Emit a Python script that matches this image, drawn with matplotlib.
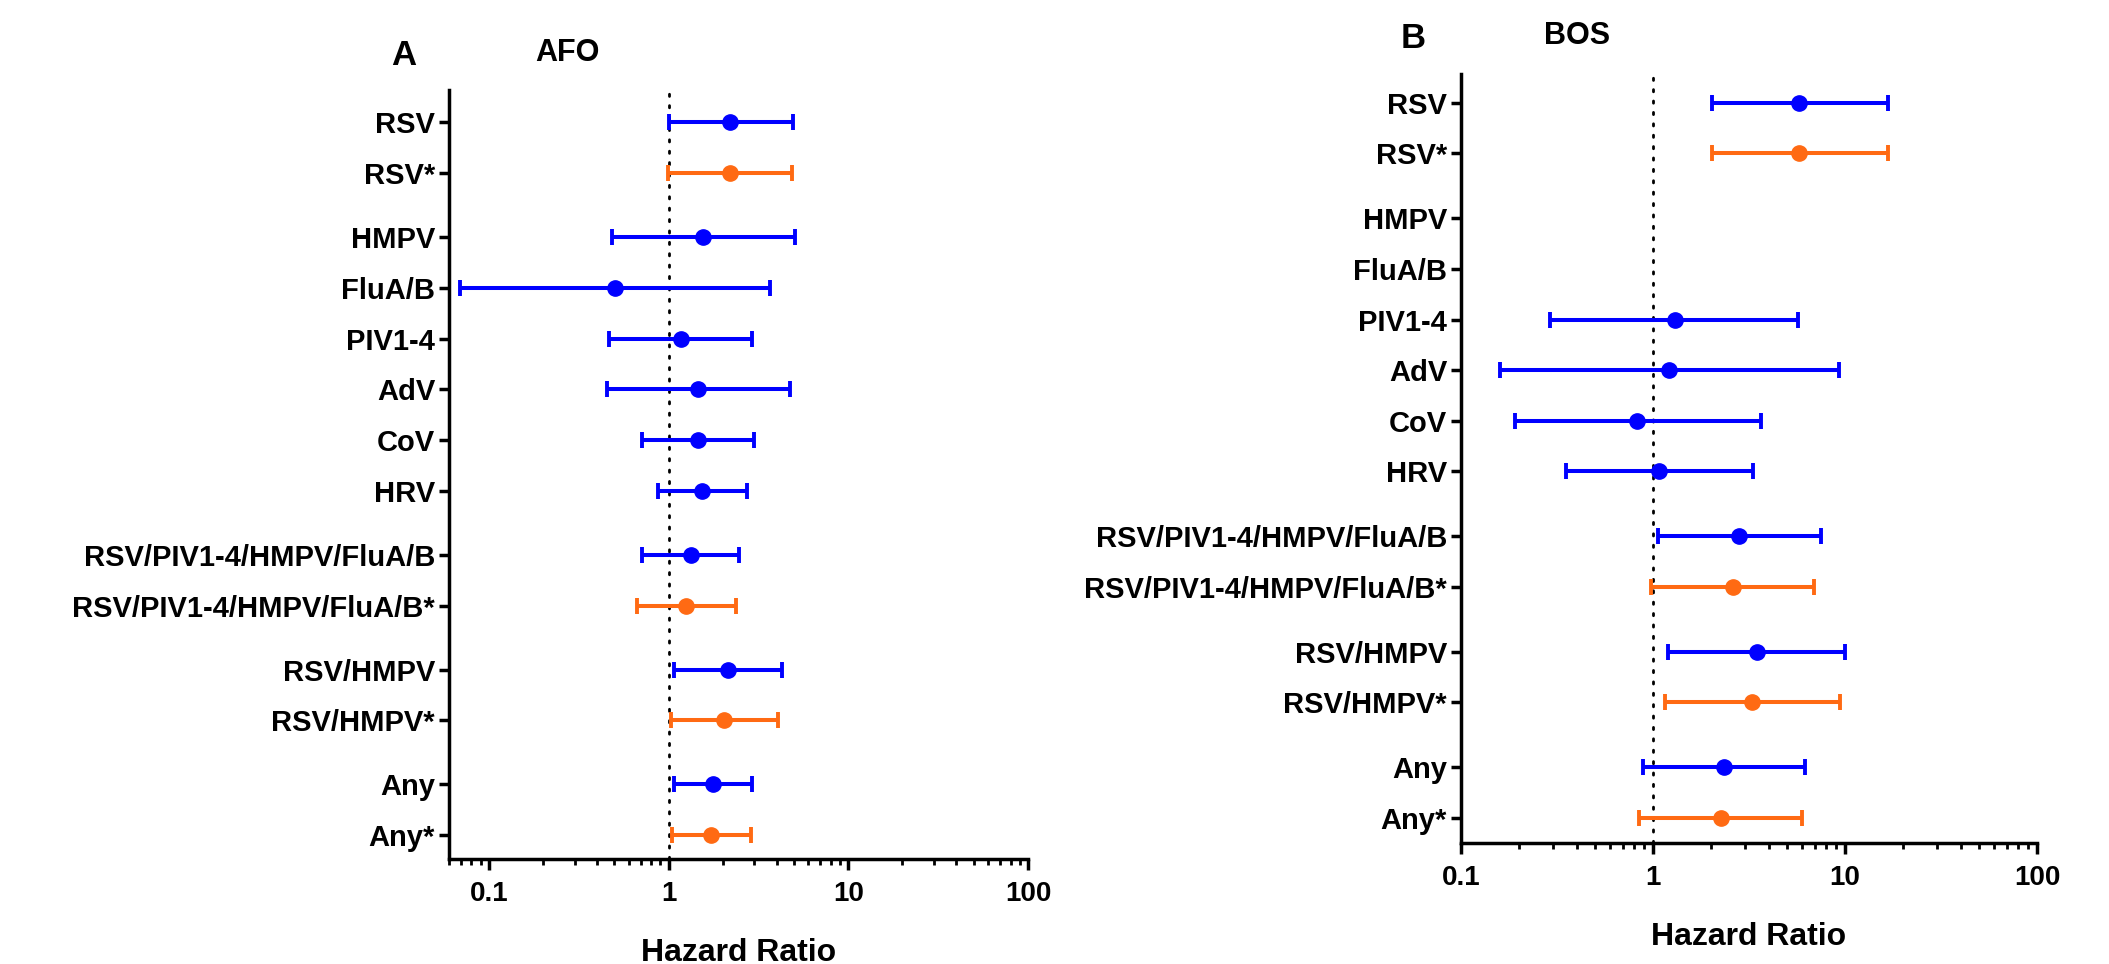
import numpy as np
import matplotlib
matplotlib.use("Agg")
import matplotlib.pyplot as plt
from matplotlib.ticker import FixedLocator, FixedFormatter, LogLocator, NullFormatter

plt.rcParams["font.family"] = ["Liberation Sans", "DejaVu Sans"]
plt.rcParams["font.weight"] = "bold"

# ---------------- data ----------------
labels = ["RSV", "RSV*", "HMPV", "FluA/B", "PIV1-4", "AdV", "CoV", "HRV",
          "RSV/PIV1-4/HMPV/FluA/B", "RSV/PIV1-4/HMPV/FluA/B*",
          "RSV/HMPV", "RSV/HMPV*", "Any", "Any*"]
group_ids = [0, 0, 1, 1, 1, 1, 1, 1, 2, 2, 3, 3, 4, 4]
adjusted = [False, True, False, False, False, False, False, False,
            False, True, False, True, False, True]

afo_hr = [2.21, 2.19, 1.56, 0.506, 1.17, 1.46, 1.46, 1.54, 1.33, 1.25, 2.13, 2.04, 1.76, 1.73]
afo_lo = [1.00, 0.99, 0.485, 0.069, 0.464, 0.457, 0.708, 0.877, 0.71, 0.667, 1.07, 1.03, 1.07, 1.05]
afo_hi = [4.93, 4.87, 5.06, 3.67, 2.93, 4.71, 2.98, 2.74, 2.47, 2.36, 4.25, 4.06, 2.93, 2.86]

bos_hr = [5.78, 5.78, np.nan, np.nan, 1.30, 1.21, 0.83, 1.08, 2.80, 2.60, 3.46, 3.29, 2.34, 2.25]
bos_lo = [2.02, 2.02, np.nan, np.nan, 0.29, 0.16, 0.191, 0.351, 1.06, 0.98, 1.20, 1.16, 0.89, 0.85]
bos_hi = [16.7, 16.7, np.nan, np.nan, 5.70, 9.29, 3.66, 3.32, 7.47, 6.89, 10.0, 9.44, 6.2, 5.97]

xticks = [0.1, 1, 10, 100]
xtick_labels = ["0.1", "1", "10", "100"]

BLUE = "#0000FF"
ORANGE = "#FF6A13"

W, H = 2109, 964
fig = plt.figure(figsize=(W / 100, H / 100), dpi=100)


def fx(px):
    return px / W


def fy(py):
    return 1 - py / H


def panel(rect, hr, lo, hi, gap, ylim, xlim):
    ax = fig.add_axes(rect)
    pos = np.arange(len(labels)) + gap * np.array(group_ids)
    hr = np.array(hr, float)
    lo = np.array(lo, float)
    hi = np.array(hi, float)
    ax.axvline(1, color="black", lw=2.0, linestyle=(0, (0.8, 3.3)),
               dash_capstyle="round", zorder=1)
    for i in range(len(labels)):
        if np.isnan(hr[i]):
            continue
        c = ORANGE if adjusted[i] else BLUE
        ax.errorbar([hr[i]], [pos[i]],
                    xerr=[[hr[i] - lo[i]], [hi[i] - hr[i]]],
                    fmt="o", color=c, ms=11, elinewidth=2.9, capsize=5.5,
                    capthick=2.8, zorder=3, clip_on=False)
    ax.set_xscale("log")
    ax.set_xlim(*xlim)
    ax.set_ylim(*ylim)
    ax.set_yticks(pos)
    ax.set_yticklabels(labels, fontsize=21, fontweight="bold")
    ax.xaxis.set_major_locator(FixedLocator(xticks))
    ax.xaxis.set_major_formatter(FixedFormatter(xtick_labels))
    ax.xaxis.set_minor_locator(LogLocator(base=10, subs=np.arange(2, 10)))
    ax.xaxis.set_minor_formatter(NullFormatter())
    for lab in ax.get_xticklabels():
        lab.set_fontsize(20)
        lab.set_fontweight("bold")
    ax.spines["top"].set_visible(False)
    ax.spines["right"].set_visible(False)
    ax.spines["left"].set_linewidth(2.5)
    ax.spines["bottom"].set_linewidth(2.5)
    ax.tick_params(axis="y", length=7.5, width=2.5, pad=2.5)
    ax.tick_params(axis="x", which="major", length=8, width=2.5, pad=8)
    ax.tick_params(axis="x", which="minor", length=4, width=2.0)
    ax.set_xlabel("Hazard Ratio", fontsize=23, fontweight="bold", labelpad=22)
    return ax


# Left panel (AFO)
panel([fx(449), fy(859), fx(1028 - 449), (859 - 90) / H],
      afo_hr, afo_lo, afo_hi, 0.25, (14.47, -0.63), (0.06, 100))
# Right panel (BOS)
panel([fx(1461), fy(843), fx(2037 - 1461), (843 - 74) / H],
      bos_hr, bos_lo, bos_hi, 0.28, (14.62, -0.57), (0.1, 100))

fig.text(fx(404), fy(65), "A", fontsize=25, fontweight="bold", ha="center", va="baseline")
fig.text(fx(567), fy(61), "AFO", fontsize=22, fontweight="bold", ha="center", va="baseline")
fig.text(fx(1413), fy(48), "B", fontsize=25, fontweight="bold", ha="center", va="baseline")
fig.text(fx(1577), fy(44), "BOS", fontsize=22, fontweight="bold", ha="center", va="baseline")

fig.savefig("out.png", dpi=100, facecolor="white")
